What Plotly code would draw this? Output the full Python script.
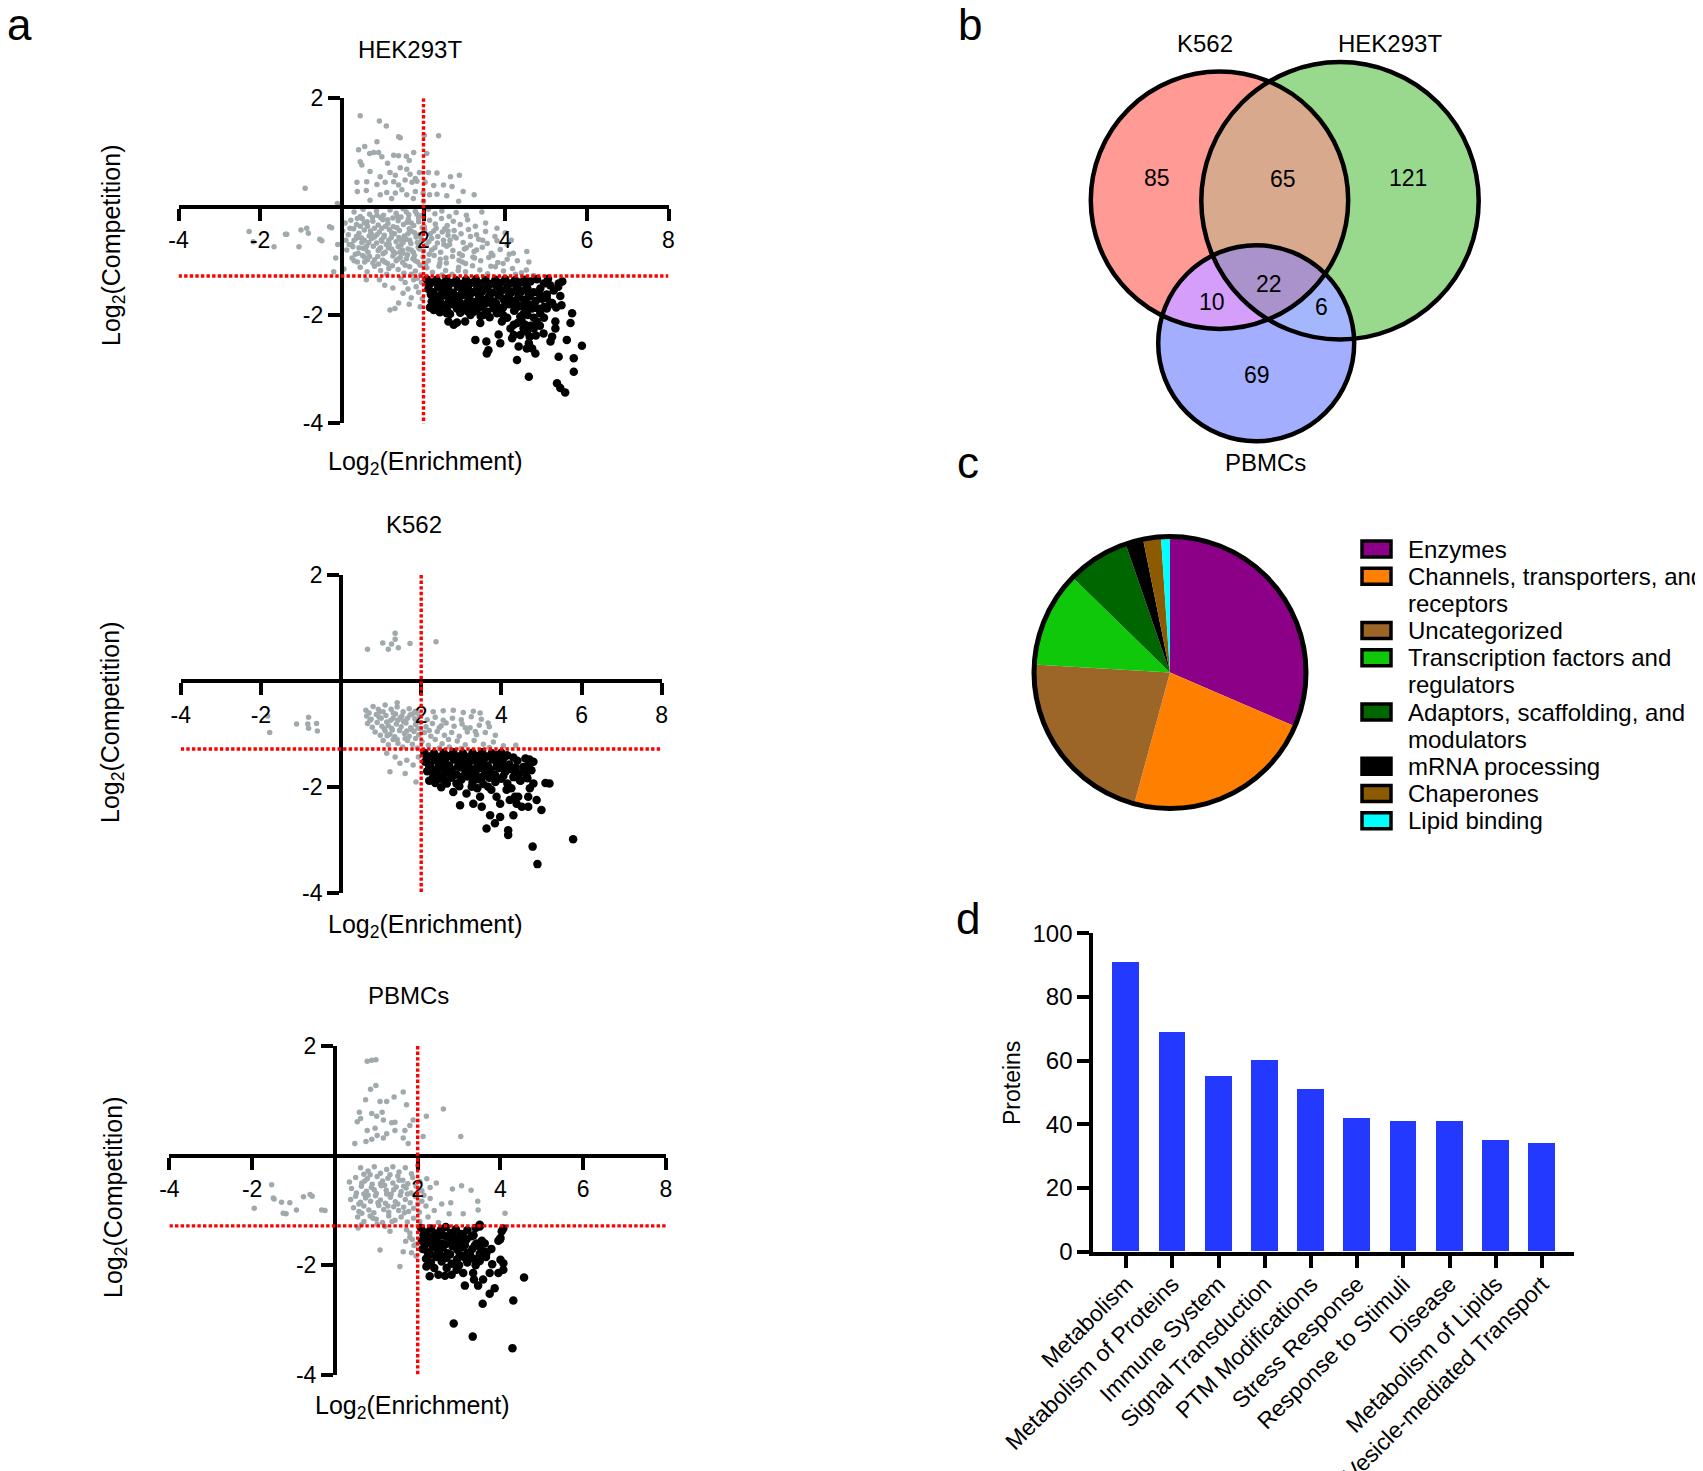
import plotly.graph_objects as go

# the page body has an 8px margin: the figure starts at window pixel 8, so every
# target position below is given in window pixels and shifted by OFF
OFF = 8
W, H = 1703 - OFF, 1471 - OFF
FONT = "Liberation Sans, Arial, sans-serif"

# ---------- panel a: log2(enrichment), log2(competition) ----------
hek_gray = [
    (0.45,1.68),(0.92,1.58),(1.09,1.49),(1.43,1.27),(1.39,1.29),(0.86,1.20),(2.02,1.32),(2.37,1.31),(0.56,1.11),(0.41,1.05),
    (0.68,0.98),(0.78,1.00),(0.90,1.00),(0.45,0.83),(0.49,0.77),(0.98,0.92),(1.27,0.95),(1.39,0.94),(1.58,0.93),(1.76,1.00),
    (2.08,0.98),(0.69,0.65),(0.94,0.55),(1.18,0.63),(1.31,0.58),(1.43,0.72),(1.59,0.69),(1.67,0.60),(1.80,0.52),(1.90,0.63),
    (2.12,0.63),(2.33,0.62),(2.66,0.55),(2.88,0.58),(0.37,0.45),(0.61,0.46),(0.86,0.41),(1.06,0.45),(1.27,0.46),(1.39,0.40),
    (1.55,0.49),(1.72,0.45),(1.84,0.47),(2.04,0.45),(2.25,0.39),(2.49,0.40),(2.70,0.37),(0.38,0.28),(0.69,0.12),(0.94,0.22),
    (1.10,0.26),(1.31,0.25),(1.47,0.31),(1.59,0.22),(1.80,0.28),(1.99,0.25),(2.15,0.22),(2.33,0.23),(2.57,0.20),(2.86,0.10),
    (2.97,0.28),(3.24,0.22),(-0.90,0.34),(-0.11,0.06),(1.12,0.80),(1.65,0.85),(0.60,0.30),(1.22,0.15),(2.00,0.10),(1.75,0.15),
    (0.30,-0.10),(0.52,-0.05),(0.68,-0.14),(0.85,-0.08),(1.02,-0.16),(1.18,-0.06),(1.33,-0.12),(1.50,-0.04),(1.64,-0.15),(1.80,-0.09),
    (1.95,-0.17),(2.12,-0.05),(2.28,-0.13),(2.45,-0.08),(2.63,-0.18),(2.80,-0.11),(3.05,-0.16),(3.43,-0.10),(0.95,-0.20),(1.45,-0.19),
    (0.08,-0.30),(0.22,-0.25),(0.36,-0.33),(0.50,-0.22),(0.63,-0.36),(0.76,-0.27),(0.89,-0.34),(1.00,-0.24),(1.13,-0.31),(1.26,-0.37),
    (1.38,-0.26),(1.51,-0.33),(1.63,-0.23),(1.76,-0.35),(1.88,-0.28),(2.02,-0.37),(2.15,-0.25),(2.29,-0.32),(2.44,-0.22),(2.58,-0.35),
    (2.73,-0.27),(2.90,-0.33),(3.08,-0.24),(3.27,-0.36),(3.52,-0.30),(3.80,-0.40),(0.55,-0.30),(1.07,-0.36),(1.70,-0.30),
    (0.02,-0.45),(0.16,-0.52),(0.29,-0.41),(0.42,-0.49),(0.55,-0.43),(0.67,-0.54),(0.80,-0.40),(0.92,-0.47),(1.04,-0.53),(1.16,-0.42),
    (1.29,-0.50),(1.41,-0.44),(1.53,-0.54),(1.65,-0.41),(1.78,-0.48),(1.90,-0.52),(2.03,-0.43),(2.17,-0.50),(2.31,-0.40),(2.46,-0.47),
    (2.60,-0.53),(2.75,-0.44),(2.92,-0.50),(3.10,-0.42),(3.30,-0.52),(3.52,-0.46),(3.75,-0.55),(4.00,-0.48),(0.36,-0.55),(0.86,-0.52),
    (1.35,-0.39),(1.97,-0.39),(2.52,-0.41),
    (0.10,-0.62),(0.24,-0.70),(0.37,-0.58),(0.49,-0.66),(0.61,-0.72),(0.73,-0.59),(0.85,-0.67),(0.97,-0.61),(1.09,-0.70),(1.21,-0.57),
    (1.33,-0.65),(1.45,-0.71),(1.57,-0.60),(1.69,-0.68),(1.82,-0.56),(1.94,-0.64),(2.07,-0.71),(2.20,-0.59),(2.34,-0.67),(2.49,-0.62),
    (2.64,-0.70),(2.80,-0.58),(2.97,-0.66),(3.15,-0.71),(3.35,-0.60),(3.56,-0.68),(3.80,-0.63),(4.05,-0.70),(4.15,-0.62),(0.55,-0.62),
    (1.03,-0.56),(1.50,-0.66),(2.13,-0.65),
    (0.12,-0.80),(0.27,-0.74),(0.40,-0.86),(0.52,-0.77),(0.64,-0.84),(0.77,-0.73),(0.89,-0.81),(1.01,-0.87),(1.14,-0.76),(1.26,-0.83),
    (1.38,-0.74),(1.50,-0.86),(1.62,-0.78),(1.75,-0.84),(1.87,-0.75),(2.00,-0.82),(2.14,-0.88),(2.28,-0.76),(2.42,-0.84),(2.57,-0.73),
    (2.72,-0.81),(2.88,-0.87),(3.05,-0.76),(3.24,-0.83),(3.44,-0.75),(3.66,-0.86),(3.88,-0.79),(4.20,-0.86),(4.53,-0.83),(0.95,-0.76),
    (1.70,-0.80),
    (0.25,-0.95),(0.38,-1.02),(0.51,-0.90),(0.63,-0.98),(0.76,-1.04),(0.88,-0.92),(1.00,-0.99),(1.12,-1.05),(1.25,-0.91),(1.37,-0.97),
    (1.49,-1.03),(1.61,-0.89),(1.74,-0.96),(1.86,-1.02),(1.99,-0.93),(2.12,-1.00),(2.26,-0.90),(2.41,-0.97),(2.56,-1.04),(2.71,-0.92),
    (2.87,-0.99),(3.03,-1.05),(3.21,-0.93),(3.40,-1.00),(3.60,-0.94),(3.82,-1.03),(4.05,-0.97),(4.30,-1.00),(4.58,-1.02),(1.43,-0.94),
    (2.05,-1.05),
    (0.45,-1.12),(0.62,-1.20),(0.80,-1.10),(0.95,-1.18),(1.10,-1.25),(1.24,-1.09),(1.38,-1.16),(1.52,-1.23),(1.66,-1.11),(1.80,-1.19),
    (1.93,-1.26),(2.08,-1.13),(2.22,-1.21),(2.38,-1.10),(2.54,-1.18),(2.70,-1.25),(2.86,-1.12),(3.03,-1.20),(3.20,-1.09),(3.38,-1.17),
    (3.57,-1.24),(3.76,-1.11),(3.96,-1.19),(4.18,-1.14),(4.40,-1.22),(4.52,-1.17),(4.70,-1.27),(1.70,-1.25),(2.45,-1.26),
    (0.92,-1.35),(1.05,-1.45),(1.18,-1.91),(1.30,-1.88),(1.39,-1.78),(1.50,-1.60),(1.55,-1.40),(1.62,-1.52),(1.70,-1.68),(1.76,-1.35),
    (1.82,-1.48),(1.88,-1.58),(1.92,-1.85),(1.95,-1.40),(1.97,-1.70),(1.45,-1.33),(1.25,-1.50),(0.60,-1.35),(1.65,-1.80),(1.85,-1.32),
    (-2.27,-0.46),(-2.17,-0.65),(-1.66,-0.74),(-1.38,-0.51),(-1.05,-0.74),(-0.86,-0.40),(-0.82,-0.49),(-0.54,-0.60),(-0.30,-0.37),
    (-0.25,-0.39),(-1.00,-0.43),(-0.49,-0.63),(-0.15,-0.95),(-0.10,-0.70),(-0.20,-1.20),(0.05,-1.15),(-1.35,-0.51),
    (0.45,-0.18),(0.75,-0.20),(1.25,-0.21),(1.58,-0.10),(1.88,-0.21),(0.30,-0.62),(0.58,-0.78),(0.80,-0.56),(1.15,-0.62),(1.40,-0.57),
    (1.62,-0.50),(1.85,-0.66),(0.45,-0.36),(0.70,-0.45),(0.98,-0.40),(1.22,-0.78),(1.48,-0.80),(1.78,-0.90),(0.33,-0.88),(0.68,-0.92),
    (1.06,-0.84),(1.33,-1.00),(1.58,-0.96),(1.92,-1.08),(0.90,-1.06),(1.15,-1.14),(0.56,-1.02),(2.35,-0.55),(2.65,-0.62),(2.95,-0.90),
    (3.15,-0.55),(2.20,-0.80),(2.55,-0.95),(3.30,-0.80),(3.65,-1.10),(4.10,-0.88),(2.85,-1.18),(3.50,-1.30),(4.25,-1.25),(2.60,-0.45),
    (0.38,-0.22),(0.62,-0.28),(0.86,-0.16),(1.12,-0.24),(1.36,-0.18),(1.60,-0.29),(1.84,-0.14),(0.20,-0.40),(0.48,-0.58),(0.72,-0.50),
    (0.98,-0.64),(1.22,-0.48),(1.46,-0.62),(1.70,-0.45),(1.94,-0.58),(0.18,-0.70),(0.42,-0.76),(0.66,-0.66),(0.92,-0.78),(1.16,-0.70),
    (1.42,-0.84),(1.66,-0.62),(1.90,-0.78),(0.30,-1.00),(0.55,-0.93),(0.80,-0.98),(1.05,-1.02),(1.30,-0.86),(1.55,-1.08),(1.80,-1.00),
    (2.25,-0.45),(2.50,-0.70),(2.75,-0.55),(3.00,-0.78),(3.25,-0.95),(2.40,-1.05),(2.95,-1.02),(3.45,-0.62),(3.70,-0.90),(3.95,-1.05),
]
hek_black = [
    (2.08,-1.34),(2.20,-1.40),(2.32,-1.35),(2.44,-1.42),(2.56,-1.34),(2.68,-1.41),(2.80,-1.36),(2.92,-1.43),(3.04,-1.35),(3.16,-1.41),
    (3.28,-1.34),(3.40,-1.42),(3.52,-1.36),(3.64,-1.43),(3.76,-1.35),(3.88,-1.41),(4.00,-1.34),(4.12,-1.42),(4.24,-1.36),(4.36,-1.40),
    (4.48,-1.35),(4.62,-1.38),(4.78,-1.34),(5.10,-1.45),(5.40,-1.38),
    (2.12,-1.52),(2.24,-1.58),(2.36,-1.49),(2.48,-1.56),(2.60,-1.50),(2.72,-1.59),(2.84,-1.48),(2.96,-1.55),(3.08,-1.51),(3.20,-1.58),
    (3.32,-1.49),(3.44,-1.56),(3.56,-1.50),(3.68,-1.59),(3.80,-1.48),(3.92,-1.55),(4.04,-1.51),(4.16,-1.58),(4.28,-1.49),(4.40,-1.56),
    (4.55,-1.52),(4.70,-1.58),(4.86,-1.51),(5.02,-1.62),(5.19,-1.55),(5.30,-1.48),(5.35,-1.65),
    (2.25,-1.68),(2.40,-1.74),(2.52,-1.64),(2.64,-1.71),(2.76,-1.66),(2.88,-1.75),(3.00,-1.63),(3.12,-1.70),(3.24,-1.76),(3.36,-1.65),
    (3.48,-1.72),(3.60,-1.67),(3.72,-1.75),(3.84,-1.64),(3.96,-1.71),(4.08,-1.66),(4.20,-1.74),(4.32,-1.68),(4.46,-1.72),(4.60,-1.66),
    (4.75,-1.74),(4.90,-1.70),(5.02,-1.69),(5.15,-1.78),
    (2.30,-1.85),(2.47,-1.82),(2.58,-1.92),(2.70,-1.80),(2.82,-1.88),(2.95,-1.84),(3.08,-1.93),(3.20,-1.81),(3.32,-1.89),(3.45,-1.85),
    (3.56,-1.94),(3.70,-1.82),(3.82,-1.90),(3.95,-1.86),(4.10,-1.80),(4.22,-1.92),(4.35,-1.84),(4.50,-1.90),(4.62,-1.82),(4.80,-1.88),
    (4.95,-1.85),(5.10,-1.80),(5.25,-1.86),(5.38,-1.82),
    (2.57,-1.97),(2.82,-2.14),(3.02,-2.12),(3.39,-2.15),(3.27,-2.46),(3.54,-2.49),(3.59,-2.65),(3.55,-2.71),(3.84,-2.36),(3.88,-2.52),
    (3.92,-2.12),(4.17,-2.43),(4.29,-2.83),(4.33,-2.58),(4.58,-3.14),(4.58,-2.52),(4.74,-2.71),(4.70,-2.25),(4.78,-2.12),(4.94,-2.34),
    (5.11,-2.49),(5.15,-2.40),(5.31,-1.42),(5.23,-2.12),(5.31,-2.77),(5.51,-2.46),(5.60,-2.15),(5.64,-1.97),(5.68,-2.80),(5.68,-3.05),
    (5.88,-2.57),(5.27,-3.26),(5.35,-3.35),(5.47,-3.43),(5.02,-1.88),(4.86,-1.97),(4.53,-2.31),(4.49,-2.18),(4.37,-2.03),(4.21,-2.18),
    (4.13,-2.25),(4.25,-1.88),(4.00,-1.75),(3.80,-1.97),(3.72,-1.88),(3.47,-2.00),(3.23,-1.94),(3.06,-1.88),(2.74,-1.75),(4.37,-2.37),
    (4.53,-2.62),(4.66,-2.62),(4.21,-2.37),(5.23,-2.25),(4.66,-1.88),(3.39,-1.75),(2.25,-1.91),(2.33,-1.88),(2.61,-2.12),(2.74,-2.18),
    (4.40,-2.10),(4.55,-2.00),(4.62,-2.20),(4.70,-2.05),(4.45,-2.25),(4.30,-2.15),(4.85,-2.20),(4.60,-2.40),(4.75,-2.38),(4.05,-2.05),
    (3.95,-2.00),(4.95,-2.05),
    (2.14,-1.44),(2.38,-1.45),(2.62,-1.44),(2.86,-1.46),(3.10,-1.45),(3.34,-1.44),(3.58,-1.46),(3.82,-1.44),(4.06,-1.46),(4.30,-1.45),
    (4.52,-1.46),(2.18,-1.62),(2.42,-1.63),(2.66,-1.61),(2.90,-1.63),(3.14,-1.62),(3.38,-1.61),(3.62,-1.63),(3.86,-1.61),(4.10,-1.62),
    (4.34,-1.61),(4.58,-1.62),(2.35,-1.79),(2.60,-1.78),(2.84,-1.79),(3.06,-1.78),(3.30,-1.79),(3.54,-1.78),(3.78,-1.79),(4.02,-1.78),
    (4.26,-1.79),(4.52,-1.78),(2.20,-1.75),(2.16,-1.86),(2.40,-1.95),(2.65,-1.98),(2.90,-1.96),(3.15,-2.00),(3.40,-2.02),(3.62,-2.04),
    (4.45,-1.98),(4.85,-1.62),(4.95,-1.42),(5.05,-1.33),
]
k562_gray = [
    (0.66,0.60),(1.04,0.72),(1.18,0.60),(1.26,0.70),(1.35,0.90),(1.35,0.79),(1.43,0.63),(1.72,0.71),(2.37,0.74),
    (-1.11,-0.81),(-0.81,-0.68),(-0.83,-0.81),(-0.81,-0.89),(-0.61,-0.80),(-0.59,-0.94),(-1.78,-0.97),(-1.83,-0.66),
    (1.40,-0.41),(0.93,-0.53),(2.80,-0.55),(3.47,-0.60),(3.67,-0.79),(4.36,-1.21),
    (1.22,-1.71),(1.60,-1.74),(1.87,-1.90),(1.14,-1.36),(1.35,-1.43),(1.64,-1.49),(1.80,-1.58),(1.93,-1.43),(1.47,-1.55),
    (0.62,-0.55),(0.80,-0.48),(0.97,-0.58),(1.10,-0.45),(1.25,-0.53),(1.40,-0.49),(1.55,-0.58),(1.70,-0.52),(1.85,-0.57),(2.30,-0.58),
    (2.55,-0.56),(3.05,-0.59),(3.30,-0.57),
    (0.64,-0.66),(0.75,-0.72),(0.88,-0.63),(1.00,-0.70),(1.12,-0.65),(1.24,-0.74),(1.36,-0.62),(1.48,-0.69),(1.60,-0.75),(1.72,-0.64),
    (1.84,-0.71),(1.96,-0.66),(2.15,-0.73),(2.35,-0.68),(2.55,-0.74),(2.78,-0.70),(3.00,-0.73),(3.25,-0.67),(3.50,-0.72),(0.70,-0.60),
    (1.30,-0.70),(1.90,-0.60),
    (0.66,-0.80),(0.78,-0.87),(0.90,-0.78),(1.02,-0.85),(1.14,-0.77),(1.26,-0.89),(1.38,-0.81),(1.50,-0.86),(1.62,-0.79),(1.74,-0.88),
    (1.86,-0.82),(1.98,-0.78),(2.12,-0.86),(2.28,-0.80),(2.45,-0.88),(2.62,-0.79),(2.82,-0.85),(3.02,-0.81),(3.22,-0.88),(3.45,-0.83),
    (3.70,-0.86),(1.08,-0.90),(1.56,-0.76),(1.92,-0.89),
    (0.85,-0.96),(0.98,-1.02),(1.10,-0.94),(1.22,-1.00),(1.34,-1.05),(1.46,-0.93),(1.58,-0.99),(1.70,-1.04),(1.82,-0.95),(1.94,-1.01),
    (2.08,-0.97),(2.24,-1.04),(2.40,-0.95),(2.58,-1.02),(2.76,-0.97),(2.95,-1.04),(3.15,-0.96),(3.38,-1.01),(3.60,-0.97),(3.85,-1.02),
    (1.28,-0.92),(1.76,-0.91),
    (1.05,-1.12),(1.18,-1.20),(1.30,-1.10),(1.42,-1.17),(1.54,-1.24),(1.66,-1.12),(1.78,-1.19),(1.90,-1.26),(2.02,-1.14),(2.18,-1.21),
    (2.35,-1.10),(2.52,-1.18),(2.70,-1.24),(2.90,-1.13),(3.10,-1.20),(3.32,-1.12),(3.55,-1.19),(3.80,-1.15),(4.05,-1.22),(1.60,-1.08),
    (2.45,-1.26),(3.00,-1.27),(3.70,-1.25),
    (0.72,-0.74),(0.95,-0.68),(1.18,-0.84),(1.42,-0.74),(1.66,-0.70),(1.88,-0.77),(1.05,-0.58),(1.30,-0.60),(1.52,-0.66),(1.78,-0.62),
    (1.15,-1.03),(1.40,-1.10),(1.64,-0.94),(1.86,-1.08),(1.98,-0.90),(2.20,-0.93),(2.50,-0.84),(2.68,-1.10),(3.10,-0.88),(3.35,-0.95),
]
k562_black = [
    (2.08,-1.35),(2.20,-1.42),(2.32,-1.36),(2.44,-1.43),(2.56,-1.35),(2.68,-1.41),(2.80,-1.34),(2.92,-1.42),(3.04,-1.36),(3.16,-1.43),
    (3.28,-1.35),(3.40,-1.41),(3.52,-1.34),(3.64,-1.42),(3.76,-1.36),(3.88,-1.40),(4.00,-1.35),(4.15,-1.40),
    (2.10,-1.52),(2.22,-1.58),(2.34,-1.49),(2.46,-1.56),(2.58,-1.50),(2.70,-1.59),(2.82,-1.48),(2.94,-1.55),(3.06,-1.51),(3.18,-1.58),
    (3.30,-1.49),(3.42,-1.56),(3.54,-1.50),(3.66,-1.59),(3.78,-1.48),(3.90,-1.55),(4.02,-1.51),(4.20,-1.57),(4.40,-1.50),(4.60,-1.46),
    (4.70,-1.48),(4.68,-1.58),
    (2.15,-1.70),(2.28,-1.66),(2.40,-1.75),(2.52,-1.64),(2.64,-1.72),(2.76,-1.67),(2.88,-1.76),(3.00,-1.63),(3.12,-1.70),(3.24,-1.66),
    (3.36,-1.75),(3.48,-1.64),(3.60,-1.72),(3.72,-1.67),(3.84,-1.76),(3.96,-1.64),(4.10,-1.71),(4.25,-1.66),(4.45,-1.74),(4.62,-1.68),
    (4.55,-1.62),
    (2.20,-1.88),(2.35,-1.92),(2.48,-1.84),(2.62,-1.90),(2.75,-1.82),(2.88,-1.93),(3.00,-1.86),(3.15,-1.80),(3.28,-1.91),(3.42,-1.85),
    (3.55,-1.94),(3.70,-1.82),(3.85,-1.90),(4.00,-1.84),(4.15,-1.93),(4.30,-1.81),(4.48,-1.88),(4.65,-1.83),(5.10,-1.92),(5.20,-1.93),
    (2.97,-2.34),(3.30,-2.31),(3.51,-2.37),(3.63,-2.78),(3.72,-2.53),(3.84,-2.68),(3.97,-2.56),(4.17,-2.81),(4.17,-2.90),(4.30,-2.53),
    (4.38,-2.31),(4.51,-2.37),(4.67,-2.18),(4.71,-2.02),(4.88,-2.24),(5.00,-2.43),(4.78,-3.12),(4.90,-3.45),(5.79,-2.98),(2.80,-2.09),
    (3.13,-2.12),(3.47,-2.18),(3.88,-2.18),(4.13,-2.05),(4.21,-2.24),(4.46,-1.87),(4.63,-1.80),(4.75,-1.68),(4.80,-1.52),(2.64,-1.93),
    (3.26,-1.99),(3.67,-1.99),(4.42,-2.18),(4.67,-2.37),(4.80,-1.93),(4.34,-2.18),(3.97,-2.31),
    (2.14,-1.45),(2.38,-1.46),(2.62,-1.45),(2.86,-1.46),(3.10,-1.45),(3.34,-1.46),(3.58,-1.45),(3.82,-1.46),(4.06,-1.45),(4.30,-1.44),
    (2.20,-1.62),(2.44,-1.61),(2.68,-1.62),(2.92,-1.61),(3.16,-1.62),(3.40,-1.61),(3.64,-1.62),(3.88,-1.61),(4.12,-1.62),(4.36,-1.63),
    (2.30,-1.80),(2.55,-1.79),(2.80,-1.78),(3.05,-1.79),(3.30,-1.78),(3.55,-1.79),(3.80,-1.78),(4.05,-1.79),(4.35,-1.75),(2.50,-2.00),
    (2.95,-1.98),(3.40,-2.02),(3.75,-2.05),(4.25,-2.02),
]
pbmc_gray = [
    (0.78,1.72),(0.89,1.74),(0.99,1.75),(0.99,1.28),(0.86,1.21),(0.74,1.02),(1.09,0.99),(1.25,0.99),(1.43,1.07),(1.65,1.16),
    (1.73,0.93),(0.59,0.79),(0.89,0.77),(1.14,0.79),(2.62,0.85),(0.54,0.62),(0.62,0.68),(1.01,0.72),(1.17,0.65),(1.37,0.60),
    (1.45,0.61),(1.81,0.55),(1.89,0.65),(2.21,0.72),(0.78,0.46),(0.97,0.50),(1.25,0.40),(1.45,0.46),(1.69,0.46),(0.89,0.30),
    (1.02,0.37),(1.17,0.32),(0.48,0.22),(0.75,0.26),(1.65,0.32),(1.77,0.22),(2.13,0.35),(3.04,0.35),
    (-1.53,-0.53),(-1.47,-0.79),(-1.29,-0.85),(-1.09,-0.86),(-1.25,-1.05),(-1.18,-1.06),(-0.93,-0.99),(-0.76,-0.75),(-0.60,-0.71),
    (-0.55,-0.74),(-0.32,-0.99),(-0.24,-1.00),(-1.95,-0.96),(-1.49,-0.77),
    (1.09,-1.72),(1.57,-2.02),(1.65,-1.75),(1.71,-1.56),(1.81,-1.49),(1.85,-1.77),(1.91,-1.64),(1.96,-1.83),(0.56,-1.32),(0.64,-1.26),
    (1.21,-1.29),(1.33,-1.38),(1.73,-1.35),(1.81,-1.41),(1.87,-1.53),(1.97,-1.61),
    (0.62,-0.22),(0.80,-0.28),(0.95,-0.20),(1.10,-0.32),(1.25,-0.25),(1.40,-0.20),(1.55,-0.30),(1.70,-0.22),(1.85,-0.33),(2.00,-0.18),
    (0.70,-0.34),(1.33,-0.35),
    (0.35,-0.48),(0.50,-0.40),(0.65,-0.50),(0.78,-0.42),(0.90,-0.52),(1.02,-0.38),(1.15,-0.46),(1.28,-0.41),(1.40,-0.50),(1.52,-0.37),
    (1.64,-0.45),(1.76,-0.51),(1.88,-0.40),(2.05,-0.47),(2.22,-0.42),(2.45,-0.50),(1.10,-0.51),
    (0.40,-0.60),(0.52,-0.68),(0.64,-0.56),(0.76,-0.65),(0.88,-0.58),(1.00,-0.69),(1.12,-0.55),(1.24,-0.63),(1.36,-0.70),(1.48,-0.57),
    (1.60,-0.66),(1.72,-0.59),(1.84,-0.68),(1.96,-0.56),(2.10,-0.64),(2.30,-0.58),(2.84,-0.61),(3.06,-0.55),(3.29,-0.63),(0.70,-0.70),
    (0.38,-0.80),(0.50,-0.74),(0.62,-0.85),(0.74,-0.77),(0.86,-0.83),(0.98,-0.73),(1.10,-0.81),(1.22,-0.87),(1.34,-0.76),(1.46,-0.84),
    (1.58,-0.72),(1.70,-0.80),(1.82,-0.86),(1.95,-0.75),(2.10,-0.83),(2.30,-0.78),(2.58,-0.88),(2.80,-0.86),(3.45,-0.83),
    (0.45,-0.95),(0.58,-1.02),(0.70,-0.92),(0.82,-0.99),(0.94,-1.04),(1.06,-0.91),(1.18,-0.98),(1.30,-1.03),(1.42,-0.93),(1.54,-1.00),
    (1.66,-0.94),(1.78,-1.02),(1.90,-0.96),(2.04,-1.03),(2.20,-0.92),(2.40,-1.00),(2.76,-1.06),(3.10,-1.06),(4.11,-1.05),(3.46,-0.99),
    (0.55,-1.12),(0.70,-1.20),(0.85,-1.10),(1.00,-1.16),(1.15,-1.22),(1.30,-1.10),(1.45,-1.18),(1.60,-1.12),(1.75,-1.21),(1.90,-1.14),
    (2.05,-1.20),(2.25,-1.12),(2.50,-1.22),(1.02,-1.25),
    (0.72,-0.46),(0.95,-0.62),(1.20,-0.54),(1.42,-0.62),(1.66,-0.56),(0.58,-0.88),(0.80,-0.72),(1.04,-0.86),(1.28,-0.92),(1.52,-0.88),
    (1.75,-0.70),(0.65,-1.05),(0.92,-1.14),(1.38,-1.20),(1.68,-1.04),(2.00,-0.88),(2.15,-0.72),(1.25,-0.70),(1.55,-0.45),(0.85,-0.35),
]
pbmc_black = [
    (2.08,-1.32),(2.20,-1.40),(2.32,-1.33),(2.44,-1.42),(2.56,-1.35),(2.68,-1.30),(2.80,-1.41),(2.92,-1.34),(3.05,-1.43),(3.20,-1.36),
    (3.40,-1.32),(3.50,-1.29),(4.07,-1.33),
    (2.10,-1.55),(2.22,-1.49),(2.34,-1.58),(2.46,-1.51),(2.58,-1.60),(2.70,-1.48),(2.82,-1.56),(2.94,-1.50),(3.06,-1.59),(3.18,-1.53),
    (3.30,-1.47),(3.42,-1.60),(3.55,-1.55),(3.95,-1.55),(4.00,-1.50),
    (2.12,-1.70),(2.24,-1.76),(2.36,-1.66),(2.48,-1.73),(2.60,-1.68),(2.72,-1.78),(2.84,-1.65),(2.96,-1.72),(3.08,-1.67),(3.20,-1.77),
    (3.32,-1.70),(3.50,-1.66),(3.62,-1.75),(3.78,-1.70),
    (2.20,-1.88),(2.32,-1.95),(2.45,-1.85),(2.58,-1.93),(2.70,-1.86),(2.82,-1.97),(2.95,-1.89),(3.08,-1.84),(3.20,-1.95),(3.35,-1.88),
    (3.50,-1.92),(3.65,-1.85),(3.80,-1.98),(4.00,-1.90),
    (2.29,-2.20),(2.50,-2.17),(2.66,-2.19),(2.82,-2.17),(3.10,-2.14),(3.14,-2.37),(3.34,-2.14),(3.36,-2.26),(3.46,-2.37),(3.57,-2.70),
    (3.74,-2.52),(3.86,-2.42),(3.74,-2.14),(3.95,-2.14),(4.07,-2.08),(4.07,-1.96),(4.31,-2.64),(4.57,-2.22),(2.87,-3.06),(3.33,-3.30),
    (4.29,-3.51),(2.21,-2.02),(2.94,-2.08),(3.58,-2.26),(3.18,-1.90),(3.66,-1.78),(3.99,-1.53),(4.03,-1.38),(3.50,-1.26),
    (2.14,-1.44),(2.38,-1.46),(2.62,-1.45),(2.86,-1.46),(3.10,-1.48),(3.35,-1.45),(2.18,-1.62),(2.42,-1.63),(2.66,-1.62),(2.90,-1.61),
    (3.14,-1.63),(3.38,-1.64),(3.62,-1.60),(2.30,-1.80),(2.54,-1.81),(2.78,-1.80),(3.02,-1.81),(3.26,-1.80),(3.50,-1.79),(2.40,-2.05),
    (2.70,-2.05),(3.00,-2.00),(3.40,-2.00),
]
enrich_cut = 2
comp_cut = -1.28
x_ticks = [-4, -2, 2, 4, 6, 8]
y_ticks = [2, -2, -4]

# ---------- panel b: overlap of hits ----------
venn_sets = ["K562", "HEK293T", "PBMCs"]
venn_regions = ["K562 only", "K562+HEK293T", "HEK293T only", "all three", "K562+PBMCs", "HEK293T+PBMCs", "PBMCs only"]
venn_counts = [85, 65, 121, 22, 10, 6, 69]

# ---------- panel c: protein classes ----------
pie_label_lines = [["Enzymes"], ["Channels, transporters, and", "receptors"], ["Uncategorized"],
                   ["Transcription factors and", "regulators"], ["Adaptors, scaffolding, and", "modulators"],
                   ["mRNA processing"], ["Chaperones"], ["Lipid binding"]]
pie_labels = [" ".join(l) for l in pie_label_lines]
pie_values = [119, 86, 82, 43, 28, 8, 8, 4]
pie_colors = ["#8C0088", "#FF8000", "#9C6628", "#10C80A", "#006600", "#000000", "#8C5A00", "#00FFFF"]

# ---------- panel d: pathways ----------
bar_categories = ["Metabolism", "Metabolism of Proteins", "Immune System", "Signal Transduction",
                  "PTM Modifications", "Stress Response", "Response to Stimuli", "Disease",
                  "Metabolism of Lipids", "Vesicle-mediated Transport"]
bar_values = [91, 69, 55, 60, 51, 42, 41, 41, 35, 34]


def fx(p):
    return (p - OFF) / W


def fy(p):
    return 1 - (p - OFF) / H


fig = go.Figure()
shapes = []
annotations = []


def text(x, y, s, size=24, angle=0, xanchor="center"):
    annotations.append(dict(x=fx(x), y=fy(y), xref="paper", yref="paper", text=s, showarrow=False,
                            textangle=angle, xanchor=xanchor, yanchor="middle", borderpad=0,
                            font=dict(family=FONT, size=size, color="black")))


axis_common = dict(showgrid=False, zeroline=False, showline=True, linecolor="black", linewidth=4,
                   ticks="outside", ticklen=12, tickwidth=4, tickcolor="black", automargin=False,
                   tickfont=dict(family=FONT, size=23, color="black"))

panels = [
    (1, "HEK293T", hek_gray, hek_black, (178.5, 668.5), (98.3, 423.3), (410, 49), (113, 245), (425, 463)),
    (2, "K562", k562_gray, k562_black, (180.7, 661.7), (575, 893.3), (414, 525), (112, 722), (425, 926)),
    (3, "PBMCs", pbmc_gray, pbmc_black, (169.4, 666.0), (1046, 1375), (408, 995), (115, 1197), (412, 1407)),
]
for idx, name, gray, black, xpx, ypx, tpos, ytpos, xtpos in panels:
    s = "" if idx == 1 else str(idx)
    xd = [fx(xpx[0]), fx(xpx[1])]
    yd = [fy(ypx[1]), fy(ypx[0])]
    fig.add_trace(go.Scatter(x=[p[0] for p in gray], y=[p[1] for p in gray], mode="markers",
                             marker=dict(size=5.5, color="#A0A9AC"), xaxis="x" + s, yaxis="y" + s,
                             hoverinfo="skip"))
    fig.add_trace(go.Scatter(x=[p[0] for p in black], y=[p[1] for p in black], mode="markers",
                             marker=dict(size=8.5, color="black"), xaxis="x" + s, yaxis="y" + s,
                             hoverinfo="skip"))
    fig.layout["xaxis" + s] = dict(axis_common, domain=xd, range=[-4, 8], anchor="free",
                                   position=yd[0] + (yd[1] - yd[0]) * 4 / 6,
                                   tickvals=x_ticks, ticktext=[str(v) for v in x_ticks])
    fig.layout["yaxis" + s] = dict(axis_common, domain=yd, range=[-4, 2], anchor="free",
                                   position=xd[0] + (xd[1] - xd[0]) * 4 / 12,
                                   tickvals=y_ticks, ticktext=[str(v) for v in y_ticks])
    dotted = dict(color="#FF0000", width=3.4, dash="3.4px,2.2px")
    shapes.append(dict(type="line", xref="x" + s, yref="y" + s, x0=enrich_cut, x1=enrich_cut, y0=2, y1=-4.12,
                       line=dotted, layer="above"))
    shapes.append(dict(type="line", xref="x" + s, yref="y" + s, x0=-4, x1=8, y0=comp_cut, y1=comp_cut,
                       line=dotted, layer="above"))
    text(*tpos, name, size=24)
    text(*ytpos, "Log<sub>2</sub>(Competition)", size=25, angle=-90)
    text(*xtpos, "Log<sub>2</sub>(Enrichment)", size=25)

# ---------- Venn (regions painted as a 1px heatmap grid) ----------
vx0, vx1, vy0, vy1 = 1080, 1490, 50, 450
circles = [(1219.5, 200.3, 128.7), (1340.0, 200.8, 138.7), (1256.2, 343.3, 98.0)]
region_colors = ["#FF9A94", "#98D98E", "#D8A98C", "#A3AEFE", "#D49EFA", "#A4B7FC", "#AA92CB"]
xs = [vx0 + 0.5 + i for i in range(vx1 - vx0)]
ys = [vy0 + 0.5 + j for j in range(vy1 - vy0)]
z = []
for yy in ys:
    row = []
    for xx in xs:
        code = 0
        for k, (cx, cy, r) in enumerate(circles):
            if (xx - cx) ** 2 + (yy - cy) ** 2 <= r * r:
                code += 1 << k
        row.append(code if code else None)
    z.append(row)
cs = []
for k, c in enumerate(region_colors):
    cs += [[k / 7, c], [(k + 1) / 7, c]]
fig.add_trace(go.Heatmap(x=xs, y=ys, z=z, colorscale=cs, zmin=0.5, zmax=7.5, showscale=False,
                         xaxis="x4", yaxis="y4", hoverinfo="skip"))
fig.layout["xaxis4"] = dict(domain=[fx(vx0), fx(vx1)], range=[vx0, vx1], visible=False, anchor="y4",
                            automargin=False)
fig.layout["yaxis4"] = dict(domain=[fy(vy1), fy(vy0)], range=[vy1, vy0], visible=False, anchor="x4",
                            automargin=False)
for cx, cy, r in circles:
    shapes.append(dict(type="circle", xref="x4", yref="y4", x0=cx - r, x1=cx + r, y0=cy - r, y1=cy + r,
                       line=dict(color="black", width=4.5), fillcolor="rgba(0,0,0,0)", layer="above"))
venn_count_pos = [(1157, 178), (1283, 179), (1408, 178), (1269, 284), (1212, 302), (1321, 307), (1257, 375)]
for (x, y), n in zip(venn_count_pos, venn_counts):
    text(x, y, str(n), size=23)
for (x, y), n in zip([(1205, 43), (1390, 43), (1265, 462)], venn_sets):
    text(x, y, n, size=24)

# ---------- pie ----------
pcx, pcy, pr = 1170, 672.5, 136
fig.add_trace(go.Pie(values=pie_values, labels=pie_labels, sort=False, direction="clockwise", rotation=0,
                     marker=dict(colors=pie_colors, line=dict(width=0)), textinfo="none", showlegend=False,
                     hoverinfo="label+value",
                     domain=dict(x=[fx(pcx - pr), fx(pcx + pr)], y=[fy(pcy + pr), fy(pcy - pr)])))
shapes.append(dict(type="circle", xref="paper", yref="paper", x0=fx(pcx - pr), x1=fx(pcx + pr),
                   y0=fy(pcy + pr), y1=fy(pcy - pr), line=dict(color="black", width=5)))
line_y = 549
for lines, col in zip(pie_label_lines, pie_colors):
    shapes.append(dict(type="rect", xref="paper", yref="paper", x0=fx(1362), x1=fx(1391),
                       y0=fy(line_y + 8), y1=fy(line_y - 8), fillcolor=col,
                       line=dict(color="black", width=3.5)))
    for ln in lines:
        text(1407, line_y, ln, size=24, xanchor="left")
        line_y += 27.17

# ---------- bars ----------
fig.add_trace(go.Bar(x=list(range(len(bar_values))), y=bar_values, width=0.58,
                     marker=dict(color="#2339FF", line=dict(width=0)), xaxis="x5", yaxis="y5"))
fig.layout["xaxis5"] = dict(axis_common, domain=[fx(1093.3), fx(1573.8)], range=[-0.71, 9.69], anchor="y5",
                            tickvals=list(range(len(bar_categories))), ticktext=bar_categories, tickangle=-45,
                            ticklabelstandoff=-6)
fig.layout["yaxis5"] = dict(axis_common, domain=[fy(1251.7), fy(933.3)], range=[0, 100], anchor="x5",
                            tickvals=[0, 20, 40, 60, 80, 100])
fig.layout["yaxis5"]["tickfont"] = dict(family=FONT, size=24, color="black")
text(1012, 1083, "Proteins", size=23, angle=-90)

for lab, (x, y) in zip("abcd", [(19, 24), (970, 24), (968, 462), (968, 918)]):
    text(x, y, lab, size=44)

fig.update_layout(template="none", width=W, height=H, margin=dict(l=0, r=0, t=0, b=0, pad=0),
                  showlegend=False, plot_bgcolor="white", paper_bgcolor="white", shapes=shapes,
                  annotations=annotations, font=dict(family=FONT, color="black"), bargap=0)
fig.write_html("out.html")
